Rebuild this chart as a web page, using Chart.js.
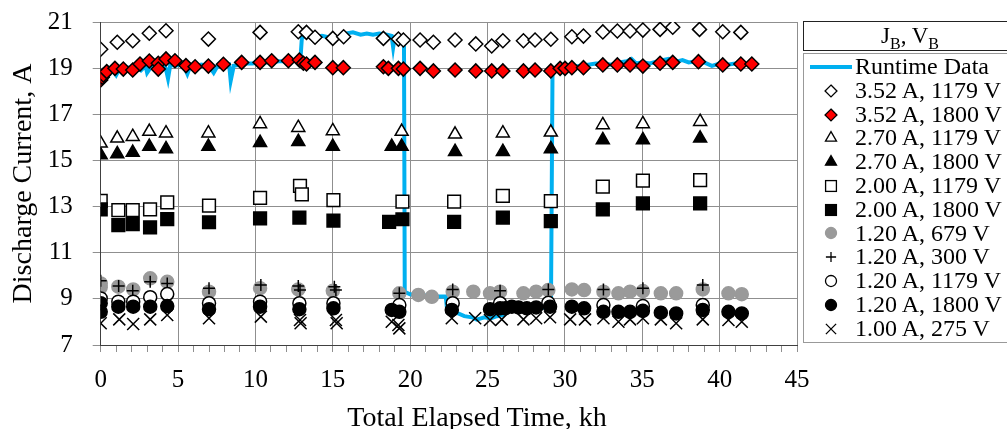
<!DOCTYPE html>
<html lang="en">
<head>
<meta charset="UTF-8" />
<title>Discharge Current vs Total Elapsed Time</title>
<script src="https://cdn.jsdelivr.net/npm/chart.js"></script>
<style>
  body { margin: 0; background: #fff; overflow: hidden; font-family: "Liberation Serif", "Times New Roman", serif; color: #000; }
  .wrap { position: relative; width: 1007px; height: 429px; overflow: hidden; }
  #chart { position: absolute; left: 0; top: 0; }
  .x-title { position: absolute; left: 477px; top: 403px; transform: translateX(-50%); font-size: 28px; line-height: 28px; white-space: nowrap; }
  .lg-title { position: absolute; left: 803px; top: 21px; width: 214px; height: 30px; box-sizing: border-box; border: 1px solid #222; padding-top: 2px; text-align: center; font-size: 23px; line-height: 24px; }
  .lg-title sub { font-size: 16px; line-height: 0; }
  .lg-box { position: absolute; left: 803px; top: 53px; width: 214px; box-sizing: border-box; border: 1px solid #999; padding: 1px 0 1px 0; }
  .lg-row { height: 23.8px; line-height: 23.8px; font-size: 24px; white-space: nowrap; display: flex; align-items: center; }
  .lg-row svg { flex: none; display: block; }
</style>
</head>
<body>
<div class="wrap">
  <canvas id="chart" width="1007" height="429"></canvas>
  <div class="x-title">Total Elapsed Time, kh</div>
  <div class="lg-title">J<sub>B</sub>, V<sub>B</sub></div>
  <div class="lg-box" id="legend"></div>
</div>

<script>
  // Data: [time kh, current A]
  const runtimeData = [
    [0.3,18.6],[0.5,18.75],[0.8,18.9],[1.0,18.7],[1.2,18.95],[1.5,18.8],[1.8,19.0],[2.0,18.85],[2.3,19.05],
    [2.6,18.9],[2.9,19.1],[3.0,18.8],[3.3,19.1],[3.6,18.95],[3.9,19.2],[4.2,19.0],[4.35,18.55],[4.5,19.15],
    [4.8,19.1],[5.1,19.15],[5.4,19.05],[5.6,18.75],[5.8,19.1],[6.2,19.05],[6.5,19.15],[7.0,19.1],[7.3,18.8],
    [7.6,19.15],[8.0,19.1],[8.3,19.15],[8.4,18.45],[8.6,19.1],[9.0,19.15],[9.3,19.2],[9.8,19.2],[10.3,19.25],
    [11.0,19.25],[11.5,19.3],[12.0,19.3],[12.5,19.35],[12.9,19.3],
    [13.0,20.3],[13.3,20.45],[13.8,20.35],[14.3,20.4],[15.0,20.3],[15.5,20.35],[15.8,20.5],[16.3,20.55],
    [16.8,20.45],[17.2,20.5],[17.6,20.45],[18.0,20.5],[18.5,20.45],[18.8,20.4],[18.9,19.9],[19.0,20.35],
    [19.3,20.4],[19.6,20.3],
    [19.65,9.3],[20.0,9.2],[20.5,9.15],[21.0,9.15],[21.5,9.1],[22.0,9.1],[22.3,9.1],[22.4,8.45],[23.0,8.4],
    [23.5,8.25],[24.0,8.2],[24.3,8.1],[24.8,8.2],[25.2,8.15],[25.6,8.25],[26.0,8.3],[26.3,8.6],[26.8,8.65],
    [27.5,8.6],[28.0,8.65],[28.5,8.6],[29.1,8.7],
    [29.2,18.9],[29.5,19.0],[30.0,19.0],[30.5,19.05],[31.0,19.1],[31.5,19.15],[32.0,19.2],[32.5,19.2],
    [33.0,19.15],[33.5,19.25],[34.0,19.3],[34.3,19.4],[34.6,19.2],[35.0,19.25],[35.5,19.2],[36.0,19.3],
    [36.7,19.4],[37.0,19.25],[37.6,19.35],[38.0,19.25],[38.5,19.3],[39.0,19.25],[39.5,19.1],[40.0,19.2],
    [40.5,19.15],[41.0,19.2],[41.5,19.15]
  ];

  const d352_1179 = [
    [0,19.82],[1.07,20.12],[2.07,20.19],[3.14,20.51],[4.22,20.62],[6.96,20.26],[10.3,20.55],[12.77,20.58],
    [13.3,20.55],[13.85,20.34],[15.0,20.29],[15.7,20.36],[18.27,20.29],[19.24,20.26],[19.56,20.22],
    [20.64,20.22],[21.5,20.12],[22.9,20.22],[24.24,20.05],[25.27,19.96],[25.99,20.19],[27.32,20.19],
    [28.07,20.22],[29.09,20.25],[30.45,20.36],[31.2,20.39],[32.45,20.57],[33.39,20.61],[34.21,20.61],
    [35.04,20.65],[36.15,20.68],[36.97,20.77],[38.7,20.68],[40.2,20.58],[41.37,20.55]
  ];
  const d352_1800 = [
    [0,18.49],[0.1,18.6],[0.17,18.7],[0.39,18.85],[0.92,18.99],[1.46,18.96],[2.07,18.92],[2.54,19.18],
    [3.14,19.31],[3.72,19.21],[3.72,18.96],[4.22,19.4],[4.8,19.32],[5.51,19.11],[6.1,19.06],[6.96,19.09],
    [7.93,19.17],[9.11,19.25],[10.3,19.25],[11.05,19.32],[12.13,19.32],[12.84,19.35],[13.1,19.21],
    [13.3,19.18],[13.85,19.25],[15.0,19.02],[15.68,19.02],[18.27,19.06],[18.59,18.99],[19.24,18.99],
    [19.56,18.96],[20.64,18.99],[21.5,18.88],[22.9,18.92],[24.24,18.88],[25.27,18.88],[25.99,18.88],
    [27.32,18.88],[28.07,18.92],[29.09,18.88],[29.69,18.99],[30.01,18.99],[30.45,19.02],[31.2,19.02],
    [32.45,19.14],[33.39,19.14],[34.21,19.14],[35.04,19.09],[36.15,19.21],[36.97,19.25],[38.63,19.28],
    [40.2,19.14],[41.37,19.18],[42.08,19.18]
  ];
  const t270_1179 = [
    [0,15.74],[1.07,15.96],[2.07,16.03],[3.14,16.25],[4.22,16.18],[6.96,16.18],[10.3,16.58],[12.77,16.42],
    [15.0,16.28],[19.45,16.25],[22.9,16.13],[25.99,16.18],[29.09,16.22],[32.45,16.54],[35.04,16.58],[38.74,16.68]
  ];
  const t270_1800 = [
    [0,15.23],[1.07,15.28],[2.07,15.34],[3.14,15.6],[4.22,15.5],[6.96,15.6],[10.3,15.77],[12.77,15.81],
    [15.0,15.6],[18.81,15.6],[19.45,15.6],[22.9,15.38],[25.99,15.38],[29.09,15.5],[32.45,15.89],[35.04,15.89],
    [38.74,15.96]
  ];
  const s200_1179 = [
    [0,13.25],[1.14,12.85],[2.07,12.85],[3.19,12.88],[4.3,13.18],[7.0,13.04],[10.3,13.38],[12.88,13.9],
    [13.0,13.53],[15.04,13.28],[19.5,13.21],[22.84,13.21],[25.99,13.46],[29.09,13.24],[32.45,13.86],
    [35.04,14.12],[38.74,14.15]
  ];
  const s200_1800 = [
    [0,12.88],[1.14,12.2],[2.07,12.24],[3.19,12.1],[4.3,12.46],[7.0,12.32],[10.3,12.49],[12.84,12.52],
    [15.04,12.39],[18.64,12.34],[19.5,12.45],[22.84,12.34],[25.99,12.52],[29.09,12.37],[32.45,12.88],
    [35.04,13.14],[38.74,13.14]
  ];
  const c120_679 = [
    [0,9.67],[0,9.5],[1.14,9.53],[2.1,9.41],[3.2,9.89],[4.3,9.74],[7.0,9.31],[10.3,9.46],[12.77,9.41],
    [15.0,9.35],[19.3,9.24],[20.53,9.17],[21.4,9.09],[22.75,9.31],[24.08,9.31],[25.16,9.24],[25.81,9.31],
    [27.32,9.24],[28.14,9.31],[28.93,9.38],[30.45,9.41],[31.24,9.38],[32.49,9.31],[33.46,9.24],[34.21,9.31],
    [35.04,9.34],[36.2,9.24],[37.19,9.24],[38.91,9.41],[40.57,9.24],[41.43,9.2]
  ];
  const p120_300 = [
    [0,9.79],[1.16,9.56],[2.07,9.35],[3.2,9.74],[4.3,9.67],[7.0,9.46],[10.35,9.6],[12.77,9.56],[12.88,9.38],
    [15.1,9.53],[15.2,9.38],[19.3,9.24],[22.75,9.41],[25.81,9.35],[28.93,9.41],[32.49,9.41],[35.04,9.46],
    [38.91,9.6]
  ];
  const c120_1179 = [
    [0,9.02],[1.14,8.88],[2.1,8.88],[3.2,9.07],[4.3,9.21],[7.0,8.81],[10.3,8.88],[12.84,8.81],[15.04,8.81],
    [19.3,8.73],[22.75,8.81],[25.81,8.81],[28.93,8.83],[32.49,8.73],[35.04,8.69],[38.91,8.73]
  ];
  const c120_1800 = [
    [0,8.81],[0,8.44],[1.14,8.66],[2.1,8.66],[3.2,8.66],[4.3,8.69],[7.0,8.55],[10.3,8.66],[12.84,8.55],
    [15.04,8.59],[18.81,8.52],[19.3,8.44],[22.69,8.52],[25.16,8.55],[25.81,8.59],[26.14,8.59],[26.57,8.66],
    [27.0,8.63],[27.54,8.59],[28.14,8.63],[29.04,8.66],[30.45,8.66],[31.24,8.59],[32.49,8.44],[33.46,8.44],
    [34.21,8.44],[35.04,8.48],[36.2,8.4],[37.19,8.37],[38.91,8.52],[40.57,8.44],[41.43,8.37]
  ];
  const x100_275 = [
    [0,7.94],[1.2,8.11],[2.1,7.91],[3.2,8.11],[4.3,8.3],[7.0,8.16],[10.35,8.23],[12.88,8.08],[12.92,7.94],
    [15.2,8.08],[15.25,7.94],[18.81,8.01],[19.24,7.87],[19.3,7.72],[22.69,8.16],[24.2,8.16],[25.16,8.08],
    [25.92,8.11],[27.32,8.11],[28.14,8.16],[29.04,8.2],[30.34,8.11],[31.3,8.11],[32.49,8.16],[33.46,8.01],
    [34.21,8.11],[35.04,8.16],[36.2,8.11],[37.19,7.94],[38.91,8.11],[40.57,8.08],[41.43,8.01]
  ];

  const xTickStep = 1;
  const xLabelEvery = 5;
  const yTicks = [7, 9, 11, 13, 15, 17, 19, 21];

  // Series table (legend order); later entries are drawn on top
  const series = [
    { label: '3.52 A, 1179 V', data: d352_1179, shape: 'rectRot', fill: '#ffffff', stroke: '#000', r: 7 },
    { label: '3.52 A, 1800 V', data: d352_1800, shape: 'rectRot', fill: '#ff0000', stroke: '#000', r: 7 },
    { label: '2.70 A, 1179 V', data: t270_1179, shape: 'triangle', fill: '#ffffff', stroke: '#000', r: 7.5 },
    { label: '2.70 A, 1800 V', data: t270_1800, shape: 'triangle', fill: '#000000', stroke: '#000', r: 7.5 },
    { label: '2.00 A, 1179 V', data: s200_1179, shape: 'rect', fill: '#ffffff', stroke: '#000', r: 9 },
    { label: '2.00 A, 1800 V', data: s200_1800, shape: 'rect', fill: '#000000', stroke: '#000', r: 9 },
    { label: '1.20 A, 679 V', data: c120_679, shape: 'circle', fill: '#9a9a9a', stroke: '#9a9a9a', r: 6.5 },
    { label: '1.20 A, 300 V', data: p120_300, shape: 'cross', fill: '#000', stroke: '#000', r: 6 },
    { label: '1.20 A, 1179 V', data: c120_1179, shape: 'circle', fill: '#ffffff', stroke: '#000', r: 6.5 },
    { label: '1.20 A, 1800 V', data: c120_1800, shape: 'circle', fill: '#000000', stroke: '#000', r: 6.5 },
    { label: '1.00 A, 275 V', data: x100_275, shape: 'crossRot', fill: '#000', stroke: '#000', r: 8.5 }
  ];
  const runtimeColor = '#00b0f0';

  const datasets = [{
    label: 'Runtime Data',
    data: runtimeData,
    showLine: true,
    borderColor: runtimeColor,
    borderWidth: 4,
    pointRadius: 0,
    tension: 0,
    order: 99
  }];
  series.forEach((s, i) => {
    datasets.push({
      label: s.label,
      data: s.data,
      showLine: false,
      pointStyle: s.shape,
      pointRadius: s.r,
      backgroundColor: s.fill,
      borderColor: s.stroke,
      pointBorderWidth: 1.5,
      order: series.length - i
    });
  });

  Chart.defaults.font.family = '"Liberation Serif", "Times New Roman", serif';
  Chart.defaults.color = '#000';

  new Chart(document.getElementById('chart'), {
    type: 'scatter',
    data: { datasets },
    options: {
      responsive: false,
      animation: false,
      events: [],
      devicePixelRatio: 1,
      layout: { padding: { left: 7, right: 210, top: 22, bottom: 33.5 } },
      plugins: { legend: { display: false }, tooltip: { enabled: false } },
      scales: {
        x: {
          type: 'linear',
          min: 0,
          max: 45,
          afterFit: axis => {
            axis.height = 50.5;
            axis.paddingLeft = 0;
            axis.paddingRight = 0;
          },
          grid: {
            color: ctx => (ctx.tick && ctx.tick.value % xLabelEvery === 0) ? '#8f8f8f' : 'rgba(0,0,0,0)',
            tickColor: '#8f8f8f',
            tickLength: 7,
            lineWidth: 1
          },
          border: { color: '#404040', width: 1 },
          ticks: {
            stepSize: xTickStep,
            maxTicksLimit: 100,
            autoSkip: false,
            maxRotation: 0,
            minRotation: 0,
            padding: 13,
            font: { size: 25 },
            callback: v => (v % xLabelEvery === 0 ? String(v) : '')
          }
        },
        y: {
          min: yTicks[0],
          max: yTicks[yTicks.length - 1],
          afterBuildTicks: axis => { axis.ticks = yTicks.map(v => ({ value: v })); },
          afterFit: axis => {
            axis.width = 93.7;
            axis.paddingTop = 0;
            axis.paddingBottom = 0;
          },
          grid: { color: '#8f8f8f', tickColor: '#8f8f8f', tickLength: 8, lineWidth: 1 },
          border: { color: '#404040', width: 1 },
          ticks: { padding: 20, font: { size: 25 } },
          title: {
            display: true,
            text: 'Discharge Current, A',
            font: { size: 28 },
            padding: { top: 0, bottom: 7 }
          }
        }
      }
    }
  });

  // HTML legend built from the series table
  function markerSvg(s) {
    const cx = 27, cy = 12, k = 0.85, r = s.r * k;
    let shape = '';
    const st = `stroke="${s.stroke}" stroke-width="1.3"`;
    if (s.shape === 'rectRot') {
      shape = `<polygon points="${cx},${cy - r} ${cx + r},${cy} ${cx},${cy + r} ${cx - r},${cy}" fill="${s.fill}" ${st}/>`;
    } else if (s.shape === 'triangle') {
      shape = `<polygon points="${cx},${cy - r} ${cx + 0.866 * r},${cy + 0.5 * r} ${cx - 0.866 * r},${cy + 0.5 * r}" fill="${s.fill}" ${st}/>`;
    } else if (s.shape === 'rect') {
      const h = r * Math.SQRT1_2;
      shape = `<rect x="${cx - h}" y="${cy - h}" width="${2 * h}" height="${2 * h}" fill="${s.fill}" ${st}/>`;
    } else if (s.shape === 'circle') {
      shape = `<circle cx="${cx}" cy="${cy}" r="${r}" fill="${s.fill}" ${st}/>`;
    } else if (s.shape === 'cross') {
      shape = `<path d="M${cx - r} ${cy}H${cx + r}M${cx} ${cy - r}V${cy + r}" ${st}/>`;
    } else if (s.shape === 'crossRot') {
      const h = r * Math.SQRT1_2;
      shape = `<path d="M${cx - h} ${cy - h}L${cx + h} ${cy + h}M${cx + h} ${cy - h}L${cx - h} ${cy + h}" ${st}/>`;
    }
    return `<svg width="51" height="24" viewBox="0 0 51 24">${shape}</svg>`;
  }

  const legend = document.getElementById('legend');
  let html = `<div class="lg-row"><svg width="51" height="24" viewBox="0 0 51 24"><line x1="6" y1="12" x2="48" y2="12" stroke="${runtimeColor}" stroke-width="4"/></svg><span>Runtime Data</span></div>`;
  series.forEach(s => {
    html += `<div class="lg-row">${markerSvg(s)}<span>${s.label}</span></div>`;
  });
  legend.innerHTML = html;
</script>
</body>
</html>
